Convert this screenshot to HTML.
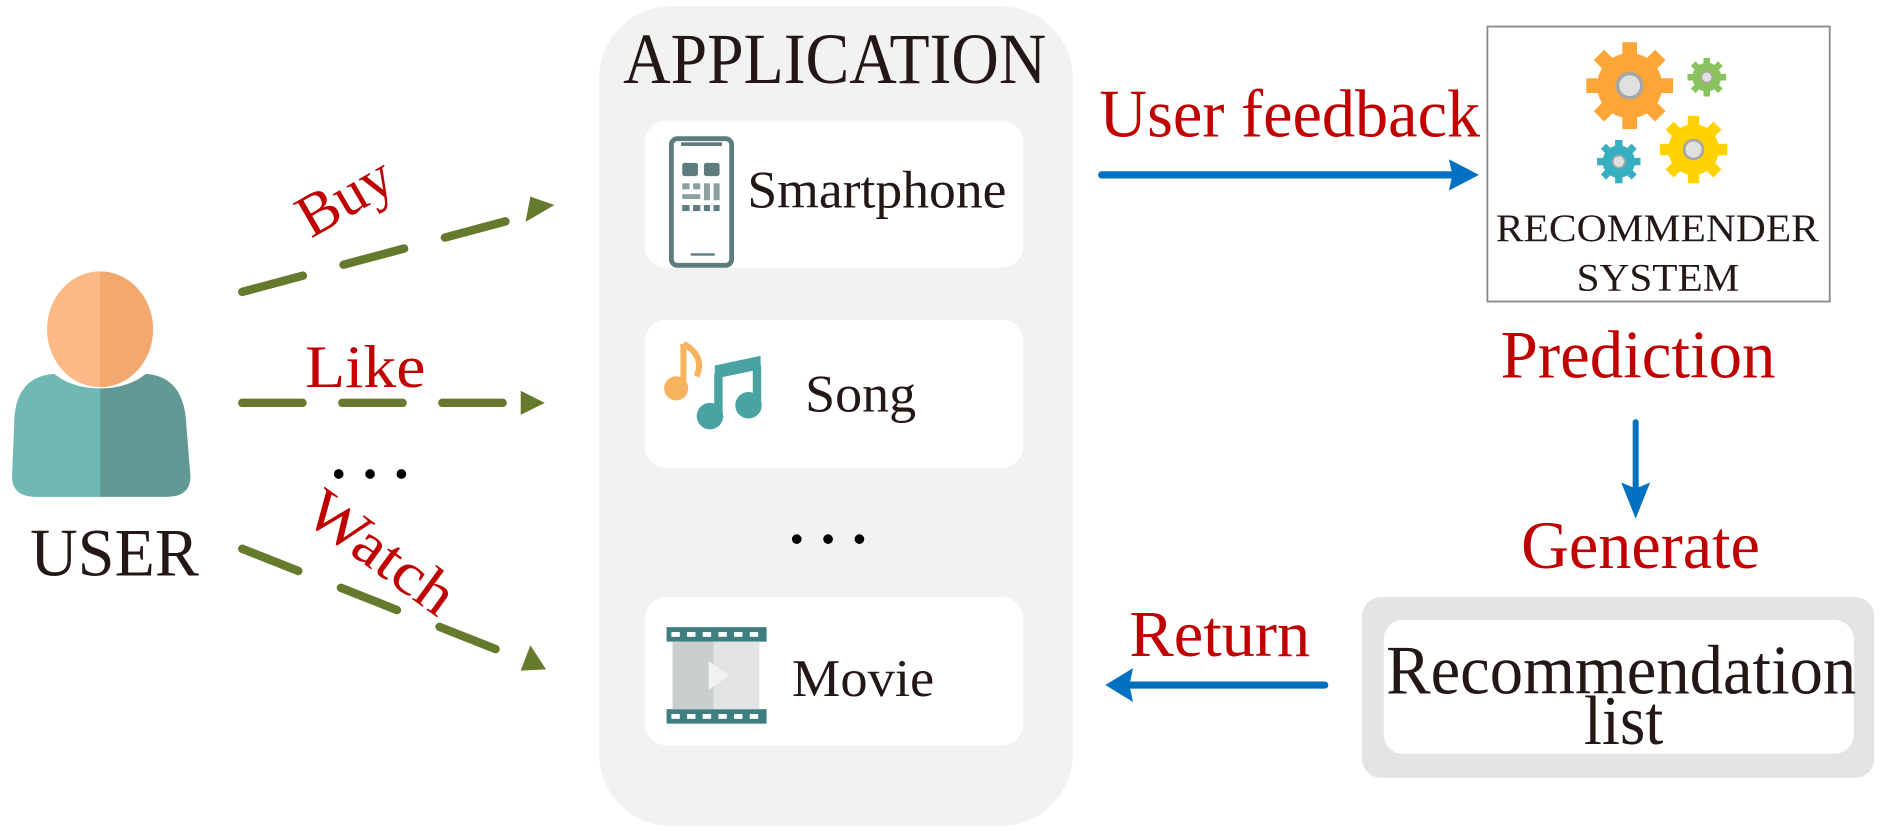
<!DOCTYPE html>
<html><head><meta charset="utf-8"><style>
html,body{margin:0;padding:0;background:#fff;width:1890px;height:831px;overflow:hidden}
svg{display:block}
text{font-family:"Liberation Serif",serif}
</style></head><body>
<svg width="1890" height="831" viewBox="0 0 1568 689" preserveAspectRatio="none" xmlns="http://www.w3.org/2000/svg">
<defs>
<g id="gear">
  <circle r="0.75" />
  <rect x="-0.17" y="-1" width="0.34" height="2"/>
  <rect x="-0.17" y="-1" width="0.34" height="2" transform="rotate(45)"/>
  <rect x="-0.17" y="-1" width="0.34" height="2" transform="rotate(90)"/>
  <rect x="-0.17" y="-1" width="0.34" height="2" transform="rotate(135)"/>
  <circle r="0.32" fill="#a6a6a6"/>
  <circle r="0.24" fill="#e0e0e0"/>
</g>
</defs>
<rect x="497" y="5" width="393" height="680" rx="60" fill="#f2f2f2"/>
<text x="517" y="69" font-size="60" fill="#231815" textLength="351" lengthAdjust="spacingAndGlyphs">APPLICATION</text>
<rect x="535" y="100" width="314" height="122" rx="18" fill="#fff"/>
<rect x="535" y="265" width="314" height="123" rx="18" fill="#fff"/>
<rect x="535" y="495" width="314" height="123" rx="18" fill="#fff"/>
<!-- smartphone icon -->
<rect x="557" y="115" width="50" height="105" rx="5" fill="#fff" stroke="#5e7b7d" stroke-width="4"/>
<rect x="565" y="118" width="34" height="3" fill="#5e7b7d"/>
<rect x="566" y="135" width="13" height="11" rx="2" fill="#5e7b7d"/><rect x="584" y="135" width="13" height="11" rx="2" fill="#5e7b7d"/>
<g fill="#8aa0a0"><rect x="566" y="152" width="6" height="5"/><rect x="575" y="152" width="6" height="5"/><rect x="584" y="152" width="5" height="14"/><rect x="592" y="152" width="5" height="14"/>
<rect x="566" y="161" width="15" height="4"/></g>
<g fill="#5e7b7d"><rect x="566" y="170" width="6" height="5"/><rect x="575" y="170" width="6" height="5"/><rect x="584" y="170" width="5" height="5"/><rect x="592" y="170" width="5" height="5"/></g>
<rect x="573" y="210" width="20" height="2" fill="#5e7b7d"/>
<!-- song icon -->
<path d="M567 285 L567 320" stroke="#f6b25c" stroke-width="5"/>
<path d="M567 285 Q585 295 578 312" stroke="#f6b25c" stroke-width="5" fill="none"/>
<circle cx="561" cy="322" r="10" fill="#f6b25c"/>
<path d="M596 310 L596 345 M628 303 L628 335" stroke="#4aa3a3" stroke-width="7" fill="none"/>
<path d="M593 303 L631 295 L631 306 L593 314Z" fill="#4aa3a3"/>
<circle cx="589" cy="345" r="11" fill="#4aa3a3"/><circle cx="621" cy="336" r="11" fill="#4aa3a3"/>
<circle cx="661" cy="447" r="4" fill="#000"/><circle cx="687" cy="447" r="4" fill="#000"/><circle cx="713" cy="447" r="4" fill="#000"/>
<!-- movie icon -->
<rect x="553" y="520" width="83" height="12" fill="#3e7d80"/>
<rect x="553" y="588" width="83" height="12" fill="#3e7d80"/>
<rect x="558" y="532" width="34" height="56" fill="#c9cdcd"/><rect x="592" y="532" width="38" height="56" fill="#e2e4e4"/>
<path d="M588 548 L605 560 L588 572Z" fill="#f2f2f2"/>
<g fill="#fff"><rect x="557" y="524" width="7" height="4"/><rect x="570" y="524" width="7" height="4"/><rect x="583" y="524" width="7" height="4"/><rect x="596" y="524" width="7" height="4"/><rect x="609" y="524" width="7" height="4"/><rect x="622" y="524" width="7" height="4"/>
<rect x="557" y="592" width="7" height="4"/><rect x="570" y="592" width="7" height="4"/><rect x="583" y="592" width="7" height="4"/><rect x="596" y="592" width="7" height="4"/><rect x="609" y="592" width="7" height="4"/><rect x="622" y="592" width="7" height="4"/></g>
<g fill="#231815" font-size="44">
<text x="620" y="172" textLength="215" lengthAdjust="spacingAndGlyphs">Smartphone</text>
<text x="668" y="341" textLength="92" lengthAdjust="spacingAndGlyphs">Song</text>
<text x="657" y="577" textLength="118" lengthAdjust="spacingAndGlyphs">Movie</text>
</g>
<!-- user -->
<ellipse cx="83" cy="273" rx="44" ry="48" fill="#fcb985"/>
<path d="M83 225 A44 48 0 0 1 83 321Z" fill="#f3a96e"/>
<path d="M83 322 Q60 322 45 310 Q15 312 12 345 L10 395 Q10 412 30 412 L83 412Z" fill="#6fb8b3"/>
<path d="M83 322 Q106 322 121 310 Q150 312 154 345 L158 395 Q158 412 138 412 L83 412Z" fill="#629995"/>
<text x="25" y="477" font-size="56" fill="#231815" textLength="140" lengthAdjust="spacingAndGlyphs">USER</text>
<!-- dashed arrows -->
<g stroke="#667a2e" stroke-width="7" stroke-linecap="round" fill="none">
<path d="M201 242 L440 178" stroke-dasharray="52 35"/>
<path d="M201 334 L436 334" stroke-dasharray="50 33"/>
<path d="M201 455 L436 548" stroke-dasharray="50 38"/>
</g>
<g fill="#667a2e">
<path d="M460 170 L440 163 L436 184Z"/>
<path d="M452 334 L432 324 L432 344Z"/>
<path d="M453 555 L432 556 L440 535Z"/>
</g>
<g fill="#c00000" font-size="50">
<text x="0" y="0" transform="translate(258 198) rotate(-30)">Buy</text>
<text x="253" y="321" textLength="100" lengthAdjust="spacingAndGlyphs">Like</text>
<text x="0" y="0" transform="translate(250 430) rotate(36)" textLength="140" lengthAdjust="spacingAndGlyphs">Watch</text>
</g>
<circle cx="281" cy="393" r="4" fill="#000"/><circle cx="307" cy="393" r="4" fill="#000"/><circle cx="333" cy="393" r="4" fill="#000"/>
<text x="912" y="113" font-size="56" fill="#c00000" textLength="316" lengthAdjust="spacingAndGlyphs">User feedback</text>
<path d="M914 145 L1210 145" stroke="#0070c0" stroke-width="6" stroke-linecap="round"/>
<path d="M1227 145 L1202 132 L1205 145 L1202 158Z" fill="#0070c0"/>
<rect x="1234" y="22" width="284" height="228" fill="#fff" stroke="#888" stroke-width="1.5"/>
<use href="#gear" transform="translate(1352 71) scale(36)" fill="#fba637"/>
<use href="#gear" transform="translate(1416 64) scale(16)" fill="#8ac35e"/>
<use href="#gear" transform="translate(1343 134) scale(18)" fill="#36b0c0"/>
<use href="#gear" transform="translate(1405 124) scale(28)" fill="#ffd200"/>
<g fill="#231815" font-size="32">
<text x="1241" y="200" textLength="268" lengthAdjust="spacingAndGlyphs">RECOMMENDER</text>
<text x="1308" y="241" textLength="135" lengthAdjust="spacingAndGlyphs">SYSTEM</text>
</g>
<text x="1245" y="313" font-size="56" fill="#c00000" textLength="228" lengthAdjust="spacingAndGlyphs">Prediction</text>
<path d="M1357 350 L1357 410" stroke="#0070c0" stroke-width="5" stroke-linecap="round"/>
<path d="M1357 430 L1345 400 L1357 405 L1369 400Z" fill="#0070c0"/>
<text x="1262" y="471" font-size="56" fill="#c00000" textLength="198" lengthAdjust="spacingAndGlyphs">Generate</text>
<rect x="1130" y="495" width="425" height="150" rx="16" fill="#e4e4e4"/>
<rect x="1148" y="514" width="390" height="111" rx="16" fill="#fff"/>
<g fill="#231815" font-size="58">
<text x="1150" y="575" textLength="390" lengthAdjust="spacingAndGlyphs">Recommendation</text>
<text x="1314" y="617" textLength="66" lengthAdjust="spacingAndGlyphs">list</text>
</g>
<text x="937" y="544" font-size="54" fill="#c00000" textLength="150" lengthAdjust="spacingAndGlyphs">Return</text>
<path d="M1099 568 L935 568" stroke="#0070c0" stroke-width="6" stroke-linecap="round"/>
<path d="M917 568 L940 554 L937 568 L940 582Z" fill="#0070c0"/>
</svg>
</body></html>
